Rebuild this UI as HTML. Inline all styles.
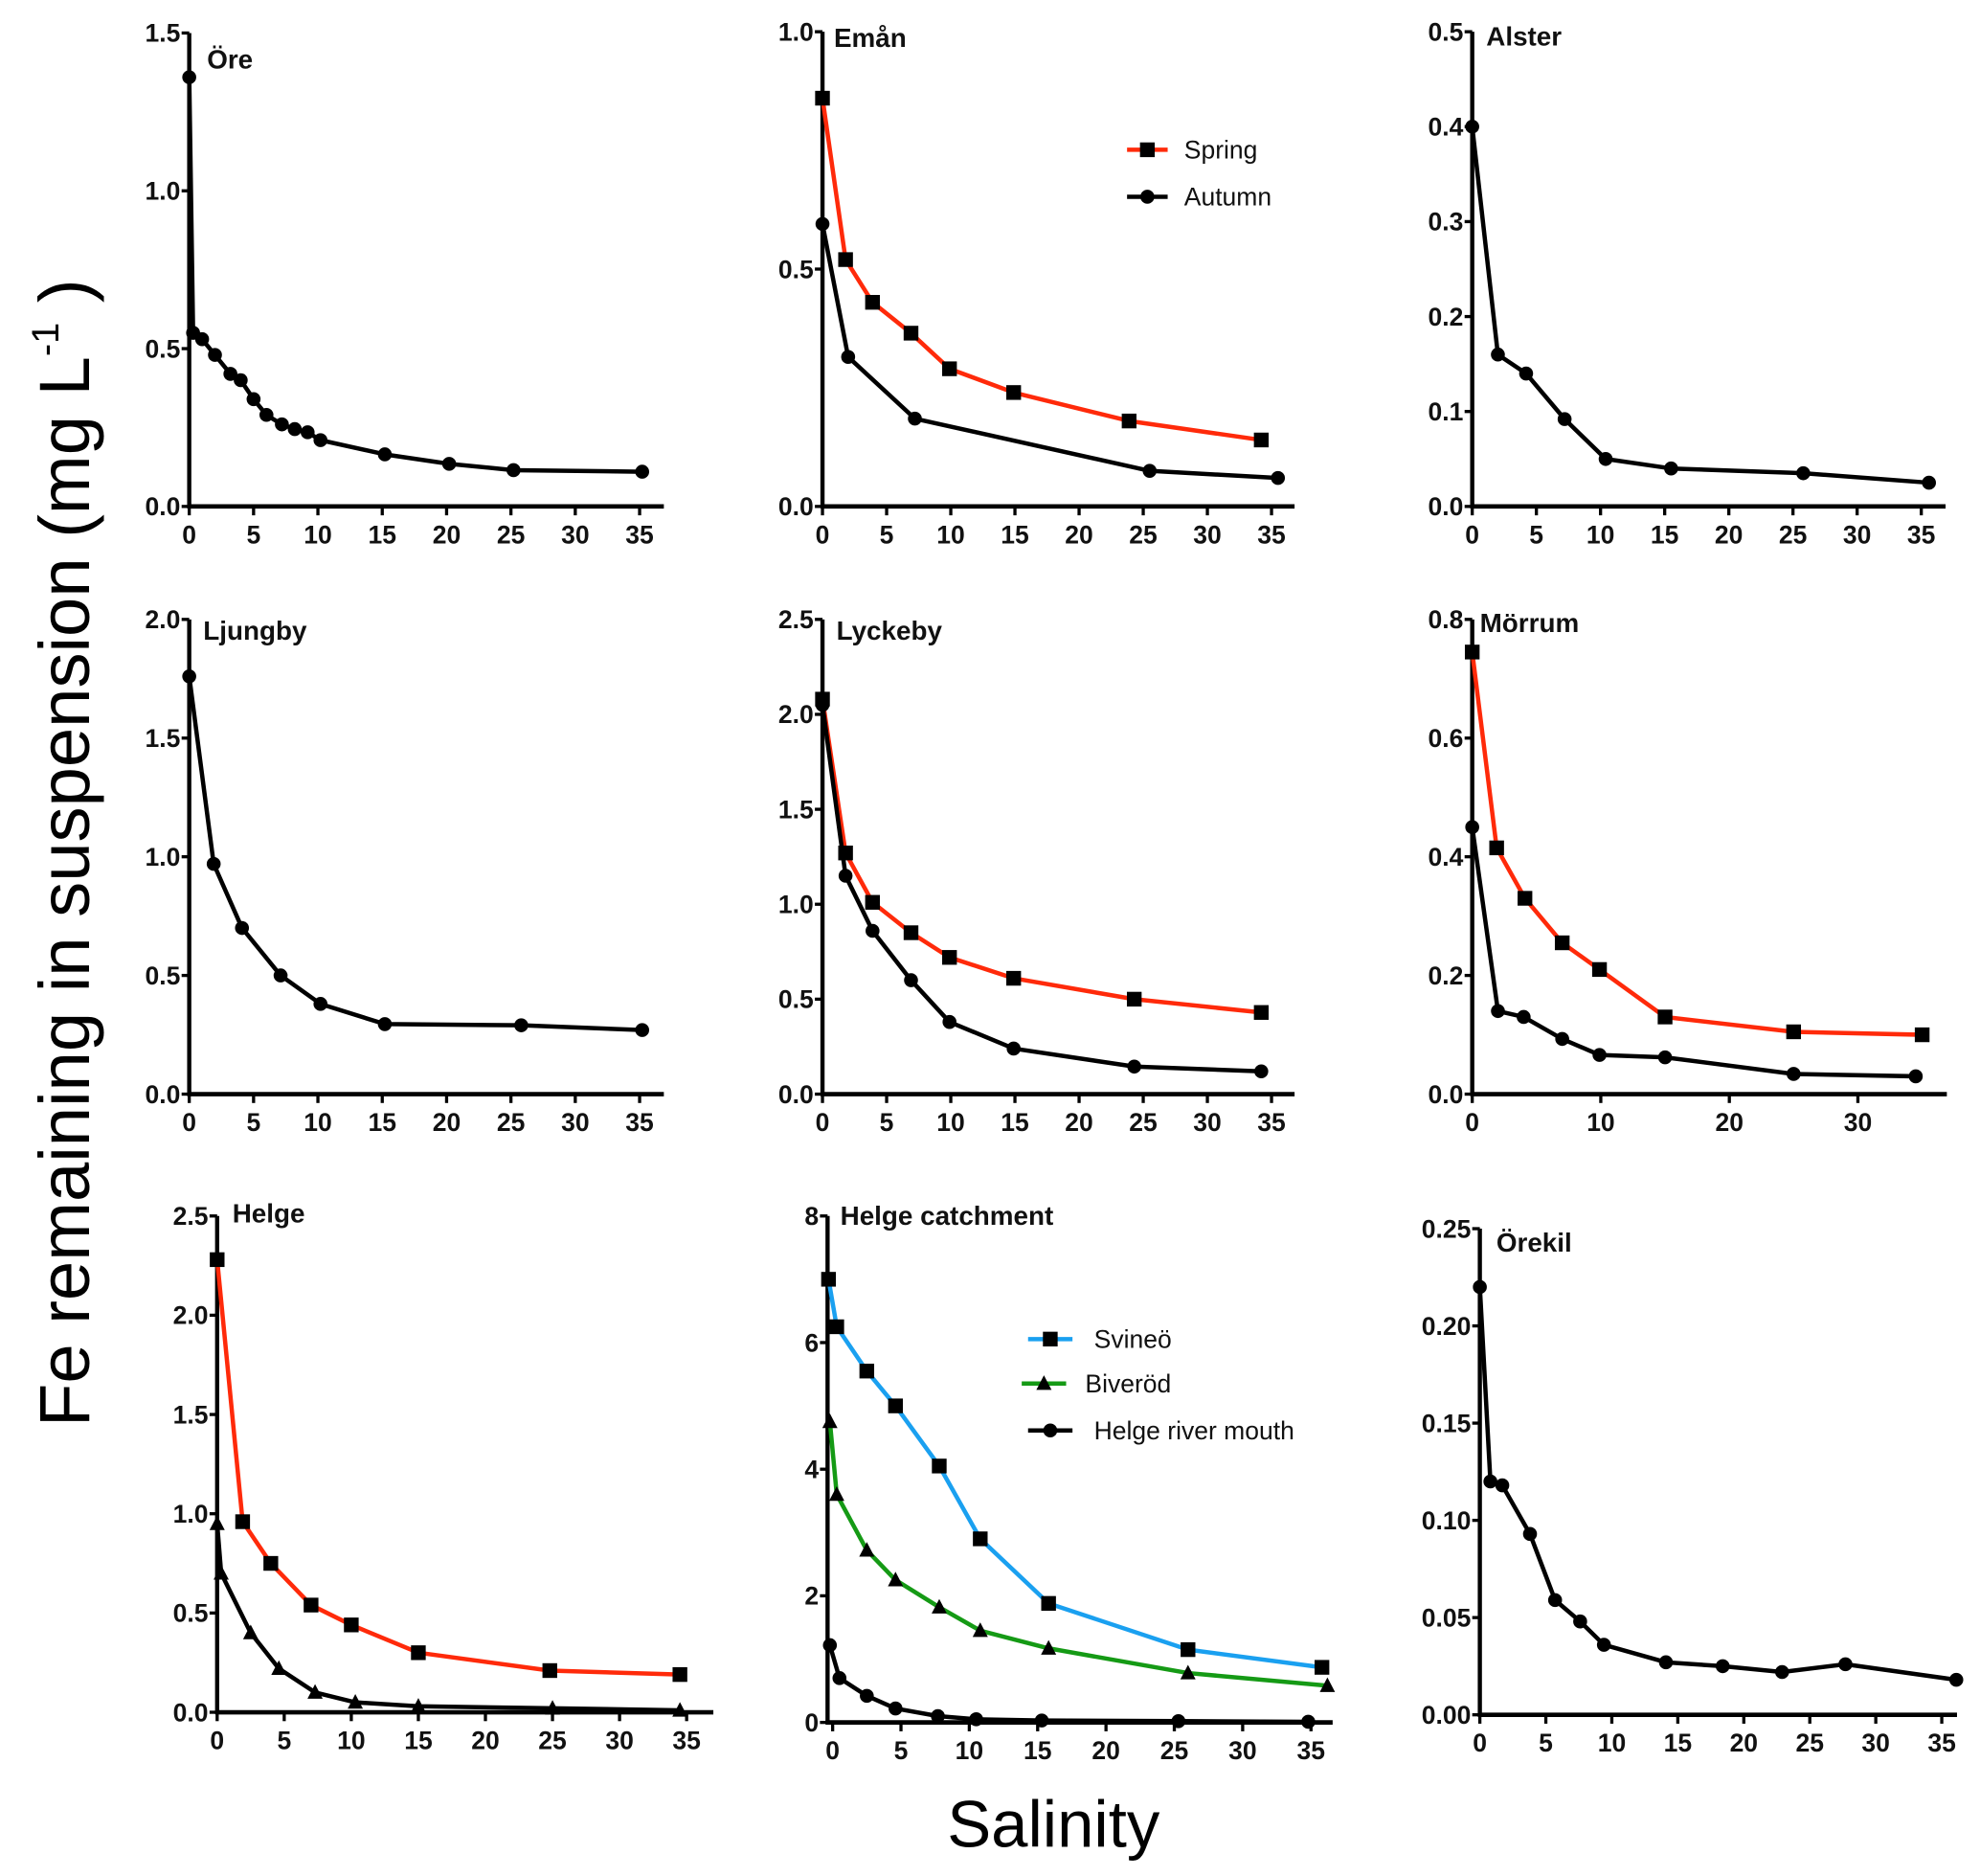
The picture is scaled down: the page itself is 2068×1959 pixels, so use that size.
<!DOCTYPE html>
<html><head><meta charset="utf-8"><style>
html,body{margin:0;padding:0;background:#fff}
svg{display:block}
.tk{font-family:"Liberation Sans Narrow","Liberation Sans",sans-serif;font-weight:bold;font-size:20px;fill:#111}
.tt{font-family:"Liberation Sans Narrow","Liberation Sans",sans-serif;font-weight:bold;font-size:21px;fill:#111}
.lg{font-family:"Liberation Sans",sans-serif;font-size:20px;fill:#111}
</style></head><body>
<svg id="fig" width="2068" height="1959" viewBox="0 0 1560 1478" xmlns="http://www.w3.org/2000/svg">
<text x="70" y="672" transform="rotate(-90 70 672)" text-anchor="middle" style="font-family:'Liberation Sans',sans-serif;font-size:56px">Fe remaining in suspension (mg L<tspan dy="-24" font-size="30">-1</tspan><tspan dy="24"> )</tspan></text>
<text x="830" y="1455" text-anchor="middle" style="font-family:'Liberation Sans',sans-serif;font-size:52px">Salinity</text>
</svg>
<script>
// ---- data ----
const oreX=[0,0.3,1,2,3.2,4,5,6,7.2,8.2,9.2,10.2,15.2,20.2,25.2,35.2];
const oreY=[1.36,0.55,0.53,0.48,0.42,0.40,0.34,0.29,0.26,0.245,0.235,0.21,0.165,0.135,0.115,0.11];
const emanSpringX=[0,1.8,3.9,6.9,9.9,14.9,23.9,34.2];
const emanSpringY=[0.86,0.52,0.43,0.365,0.29,0.24,0.18,0.14];
const emanAutumnX=[0,2,7.2,25.5,35.5];
const emanAutumnY=[0.595,0.315,0.185,0.075,0.06];
const alsterX=[0,2,4.2,7.2,10.4,15.5,25.8,35.6];
const alsterY=[0.40,0.16,0.14,0.092,0.05,0.04,0.035,0.025];
const ljungbyX=[0,1.9,4.1,7.1,10.2,15.2,25.8,35.2];
const ljungbyY=[1.76,0.97,0.70,0.50,0.38,0.295,0.29,0.27];
const lyckSpringX=[0,1.8,3.9,6.9,9.9,14.9,24.3,34.2];
const lyckSpringY=[2.08,1.27,1.01,0.85,0.72,0.61,0.50,0.43];
const lyckAutumnX=[0,1.8,3.9,6.9,9.9,14.9,24.3,34.2];
const lyckAutumnY=[2.05,1.15,0.86,0.60,0.38,0.24,0.145,0.12];
const morSpringX=[0,1.9,4.1,7,9.9,15,25,35];
const morSpringY=[0.745,0.415,0.33,0.255,0.21,0.13,0.105,0.10];
const morAutumnX=[0,2,4,7,9.9,15,25,34.5];
const morAutumnY=[0.45,0.14,0.13,0.093,0.066,0.062,0.034,0.03];
const helgeSpringX=[0,1.9,4,7,10,15,24.8,34.5];
const helgeSpringY=[2.28,0.96,0.75,0.54,0.44,0.30,0.21,0.19];
const helgeAutumnX=[0,0.3,2.5,4.6,7.3,10.3,15,25,34.5];
const helgeAutumnY=[0.95,0.7,0.40,0.22,0.10,0.05,0.03,0.02,0.01];
const svineoX=[-0.3,0.3,2.5,4.6,7.8,10.8,15.8,26,35.8];
const svineoY=[7.0,6.25,5.55,5.0,4.05,2.9,1.88,1.15,0.87];
const biverodX=[-0.2,0.3,2.5,4.6,7.8,10.8,15.8,26,36.2];
const biverodY=[4.75,3.6,2.72,2.25,1.82,1.45,1.17,0.78,0.58];
const mouthX=[-0.2,0.5,2.5,4.6,7.7,10.5,15.3,25.3,34.8];
const mouthY=[1.22,0.7,0.42,0.22,0.1,0.05,0.03,0.02,0.01];
const orekilX=[0,0.8,1.7,3.8,5.7,7.6,9.4,14.1,18.4,22.9,27.7,36.1];
const orekilY=[0.22,0.12,0.118,0.093,0.059,0.048,0.036,0.027,0.025,0.022,0.026,0.018];
const xt35=[0,5,10,15,20,25,30,35];
const xtMor=[0,10,20,30];
const ytOre=["0.0","0.5","1.0","1.5"];
const ytEman=["0.0","0.5","1.0"];
const ytAlster=["0.0","0.1","0.2","0.3","0.4","0.5"];
const ytLj=["0.0","0.5","1.0","1.5","2.0"];
const ytLy=["0.0","0.5","1.0","1.5","2.0","2.5"];
const ytMor=["0.0","0.2","0.4","0.6","0.8"];
const ytCat=["0","2","4","6","8"];
const ytOrek=["0.00","0.05","0.10","0.15","0.20","0.25"];

const NS="http://www.w3.org/2000/svg";
const svg=document.getElementById('fig');
function mk(tag,attrs,parent){const e=document.createElementNS(NS,tag);for(const k in attrs)e.setAttribute(k,attrs[k]);(parent||svg).appendChild(e);return e;}

function marker(g,type,x,y,fill){
  if(type==='c'){const m=mk('circle',{cx:x,cy:y,r:5.5,fill:fill},g);
    
    }
  else if(type==='s'){const m=mk('rect',{x:x-5.8,y:y-5.8,width:11.6,height:11.6,fill:fill},g);
    
    }
  else {const m=mk('polygon',{points:`${x},${y-6.5} ${x-6},${y+5} ${x+6},${y+5}`,fill:fill},g);
    
    }
}

function panel(p){
  const g=mk('g',{});
  
  
  const sx=v=>p.x0+v*p.kx, sy=v=>p.y0-(v/p.ymax)*(p.y0-p.ytop);
  const ya=mk('line',{x1:p.ax,y1:p.ytop,x2:p.ax,y2:p.y0+1.5,stroke:'#000','stroke-width':3.3},g);
  
  
  const xa=mk('line',{x1:p.ax-1.5,y1:p.y0,x2:p.xend,y2:p.y0,stroke:'#000','stroke-width':3.5},g);
  
  
  p.xt.forEach(v=>{const X=sx(v);
    mk('line',{x1:X,y1:p.y0,x2:X,y2:p.y0+7,stroke:'#000','stroke-width':2.5},g);
    const t=mk('text',{x:X,y:p.y0+29,'text-anchor':'middle',class:'tk'},g);t.textContent=v;
    
    });
  const n=p.yt.length;
  p.yt.forEach((lab,i)=>{const Y=sy(p.ymax*i/(n-1));
    mk('line',{x1:p.ax-6,y1:Y,x2:p.ax,y2:Y,stroke:'#000','stroke-width':2.5},g);
    const t=mk('text',{x:p.ax-7,y:Y+7,'text-anchor':'end',class:'tk'},g);t.textContent=lab;
    
    });
  const tt=mk('text',{x:p.tx,y:p.ty,class:'tt','font-size':p.tfs||21},g);tt.textContent=p.title;
  
  
  p.series.forEach(s=>{
    const pts=s.x.map((v,i)=>sx(v)+','+sy(s.y[i])).join(' ');
    const l=mk('polyline',{points:pts,fill:'none',stroke:s.color,'stroke-width':3.4,'stroke-linejoin':'round'},g);
    
    
    s.x.forEach((v,i)=>marker(g,s.m,sx(v),sy(s.y[i]),'#000'));
  });
}

const RED='#ff2a0a',BLUE='#1aa0f0',GREEN='#159a15';
panel({name:'ore',title:'Öre',tx:163,ty:54,ax:149,x0:149,kx:10.14,y0:399,ytop:26,ymax:1.5,xend:523,xt:xt35,yt:ytOre,
  series:[{x:oreX,y:oreY,color:'#000',m:'c'}]});
panel({name:'eman',title:'Emån',tx:657,ty:37,ax:648,x0:648,kx:10.11,y0:399,ytop:25,ymax:1.0,xend:1020,xt:xt35,yt:ytEman,
  series:[{x:emanSpringX,y:emanSpringY,color:RED,m:'s'},{x:emanAutumnX,y:emanAutumnY,color:'#000',m:'c'}]});
panel({name:'alster',title:'Alster',tx:1171,ty:36,ax:1160,x0:1160,kx:10.11,y0:399,ytop:25,ymax:0.5,xend:1533,xt:xt35,yt:ytAlster,
  series:[{x:alsterX,y:alsterY,color:'#000',m:'c'}]});
panel({name:'ljungby',title:'Ljungby',tx:160,ty:504,tfs:17,ax:149,x0:149,kx:10.14,y0:862,ytop:488,ymax:2.0,xend:523,xt:xt35,yt:ytLj,
  series:[{x:ljungbyX,y:ljungbyY,color:'#000',m:'c'}]});
panel({name:'lyckeby',title:'Lyckeby',tx:659,ty:504,ax:648,x0:648,kx:10.11,y0:862,ytop:488,ymax:2.5,xend:1020,xt:xt35,yt:ytLy,
  series:[{x:lyckSpringX,y:lyckSpringY,color:RED,m:'s'},{x:lyckAutumnX,y:lyckAutumnY,color:'#000',m:'c'}]});
panel({name:'morrum',title:'Mörrum',tx:1166,ty:498,ax:1160,x0:1160,kx:10.13,y0:862,ytop:488,ymax:0.8,xend:1534,xt:xtMor,yt:ytMor,
  series:[{x:morSpringX,y:morSpringY,color:RED,m:'s'},{x:morAutumnX,y:morAutumnY,color:'#000',m:'c'}]});
panel({name:'helge',title:'Helge',tx:183,ty:963,ax:171,x0:171,kx:10.57,y0:1349,ytop:958,ymax:2.5,xend:562,xt:xt35,yt:ytLy,
  series:[{x:helgeSpringX,y:helgeSpringY,color:RED,m:'s'},{x:helgeAutumnX,y:helgeAutumnY,color:'#000',m:'t'}]});
panel({name:'helge-catchment',title:'Helge catchment',tx:662,ty:965,ax:652,x0:656,kx:10.77,y0:1357,ytop:958,ymax:8,xend:1050,xt:xt35,yt:ytCat,
  series:[{x:svineoX,y:svineoY,color:BLUE,m:'s'},{x:biverodX,y:biverodY,color:GREEN,m:'t'},{x:mouthX,y:mouthY,color:'#000',m:'c'}]});
panel({name:'orekil',title:'Örekil',tx:1179,ty:986,tfs:17,ax:1166,x0:1166,kx:10.4,y0:1351,ytop:968,ymax:0.25,xend:1542,xt:xt35,yt:ytOrek,
  series:[{x:orekilX,y:orekilY,color:'#000',m:'c'}]});

function legend(x1,x2,y,color,m,label,tx){
  const g=mk('g',{});
  
  
  mk('line',{x1:x1,y1:y,x2:x2,y2:y,stroke:color,'stroke-width':3.4},g);
  marker(g,m,(x1+x2)/2,y,'#000');
  const t=mk('text',{x:tx,y:y+7,class:'lg'},g);t.textContent=label;
}
legend(888,920,118,RED,'s','Spring',933);
legend(888,920,155,'#000','c','Autumn',933);
legend(810,845,1055,BLUE,'s','Svineö',862);
legend(805,840,1090,GREEN,'t','Biveröd',855);
legend(810,845,1127,'#000','c','Helge river mouth',862);
</script>
</body></html>
